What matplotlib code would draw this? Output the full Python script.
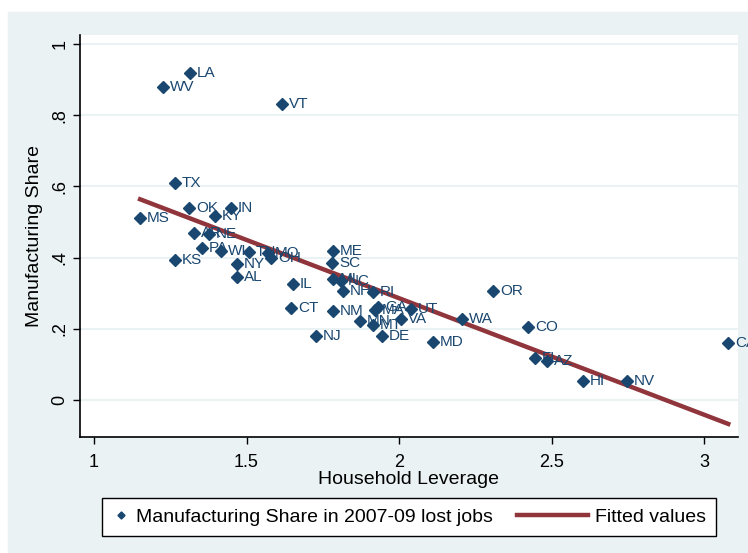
import numpy as np
import matplotlib
matplotlib.use('Agg')
import matplotlib.pyplot as plt
from matplotlib.patches import Rectangle
from matplotlib.legend_handler import HandlerLine2D

plt.rcParams['font.family'] = ['Liberation Sans', 'DejaVu Sans']

# state, household leverage, manufacturing share of lost jobs
states = ['LA', 'WV', 'VT', 'TX', 'MS', 'OK', 'IN', 'KY', 'AR', 'NE',
          'PA', 'WI', 'KS', 'TN', 'MO', 'OH', 'NY', 'AL', 'IL', 'ME',
          'SC', 'MI', 'NC', 'NH', 'RI', 'CT', 'NM', 'NJ', 'MA', 'GA',
          'MN', 'MT', 'DE', 'UT', 'VA', 'WA', 'MD', 'OR', 'CO', 'FL',
          'AZ', 'HI', 'NV', 'CA']
leverage = [1.315, 1.226, 1.616, 1.266, 1.151, 1.311, 1.449, 1.397, 1.328, 1.377,
            1.354, 1.416, 1.266, 1.508, 1.570, 1.580, 1.469, 1.469, 1.652, 1.784,
            1.780, 1.784, 1.810, 1.816, 1.915, 1.646, 1.784, 1.728, 1.921, 1.931,
            1.872, 1.915, 1.944, 2.039, 2.007, 2.207, 2.111, 2.308, 2.423, 2.446,
            2.485, 2.603, 2.748, 3.079]
mfg_share = [0.919, 0.879, 0.831, 0.610, 0.511, 0.539, 0.539, 0.517, 0.469, 0.466,
             0.427, 0.419, 0.393, 0.416, 0.413, 0.399, 0.382, 0.346, 0.326, 0.419,
             0.385, 0.340, 0.334, 0.306, 0.303, 0.258, 0.250, 0.180, 0.253, 0.261,
             0.222, 0.211, 0.180, 0.256, 0.228, 0.228, 0.163, 0.306, 0.205, 0.118,
             0.110, 0.053, 0.053, 0.160]

xticks = [1, 1.5, 2, 2.5, 3]
xticklabels = ['1', '1.5', '2', '2.5', '3']
yticks = [0, 0.2, 0.4, 0.6, 0.8, 1]
yticklabels = ['0', '.2', '.4', '.6', '.8', '1']

navy = '#1a476f'
maroon = '#90353b'
bg = '#eaf2f3'


class LongLine(HandlerLine2D):
    # stretch the line sample to the left so it is longer than the marker slot
    def create_artists(self, legend, orig_handle, xdescent, ydescent,
                       width, height, fontsize, trans):
        extra = width * 3.1
        return super().create_artists(legend, orig_handle, xdescent + extra,
                                      ydescent, width + extra, height,
                                      fontsize, trans)


fig = plt.figure(figsize=(7.48, 5.53), dpi=100)
fig.patches.append(Rectangle((8 / 748, 0), 1, 1 - 12 / 553,
                             transform=fig.transFigure, color=bg, zorder=-5))

ax = fig.add_axes([80 / 748, 1 - 437 / 553, 658 / 748, 402 / 553])
ax.set_zorder(1)
ax.set_facecolor('white')

x = np.array(leverage)
y = np.array(mfg_share)

# linear fit over the data range
b, a = np.polyfit(x, y, 1)
xf = np.array([x.min(), x.max()])
line, = ax.plot(xf, a + b * xf, color=maroon, lw=3.2, zorder=2,
                label='Fitted values')

pts, = ax.plot(x, y, 'D', color=navy, ms=6, mec=navy, ls='none', zorder=3,
               label='Manufacturing Share in 2007-09 lost jobs')
for s, xi, yi in zip(states, x, y):
    ax.annotate(s, (xi, yi), xytext=(5, 0), textcoords='offset points',
                va='center', ha='left', fontsize=11, color=navy, zorder=4,
                annotation_clip=False)

ax.set_xlim(0.954, 3.111)
ax.set_ylim(-0.104, 1.025)
ax.set_xticks(xticks)
ax.set_xticklabels(xticklabels, fontsize=13)
ax.set_yticks(yticks)
ax.set_yticklabels(yticklabels, fontsize=13, rotation=90, va='center')
ax.tick_params(direction='out', length=5, width=1, color='black')
ax.tick_params(axis='x', pad=7)
ax.yaxis.grid(True, color=bg, lw=1.5)
ax.set_axisbelow(True)
for sp in ['top', 'right']:
    ax.spines[sp].set_visible(False)
ax.spines['left'].set_linewidth(1.2)
ax.spines['bottom'].set_linewidth(1.2)

ax.set_xlabel('Household Leverage', fontsize=14, labelpad=0)
ax.set_ylabel('Manufacturing Share', fontsize=14, labelpad=6)

leg = fig.legend(handles=[pts, line], loc='center', ncol=2,
                 bbox_to_anchor=(409 / 748, 1 - 517 / 553),
                 fontsize=14, frameon=True, fancybox=False, framealpha=1,
                 handlelength=0.9, handletextpad=0.35, columnspacing=4.0,
                 markerscale=0.6, borderpad=0.5,
                 handler_map={line: LongLine()})
leg.get_frame().set_edgecolor('black')
leg.get_frame().set_linewidth(1)

fig.savefig('out.png', dpi=100)
